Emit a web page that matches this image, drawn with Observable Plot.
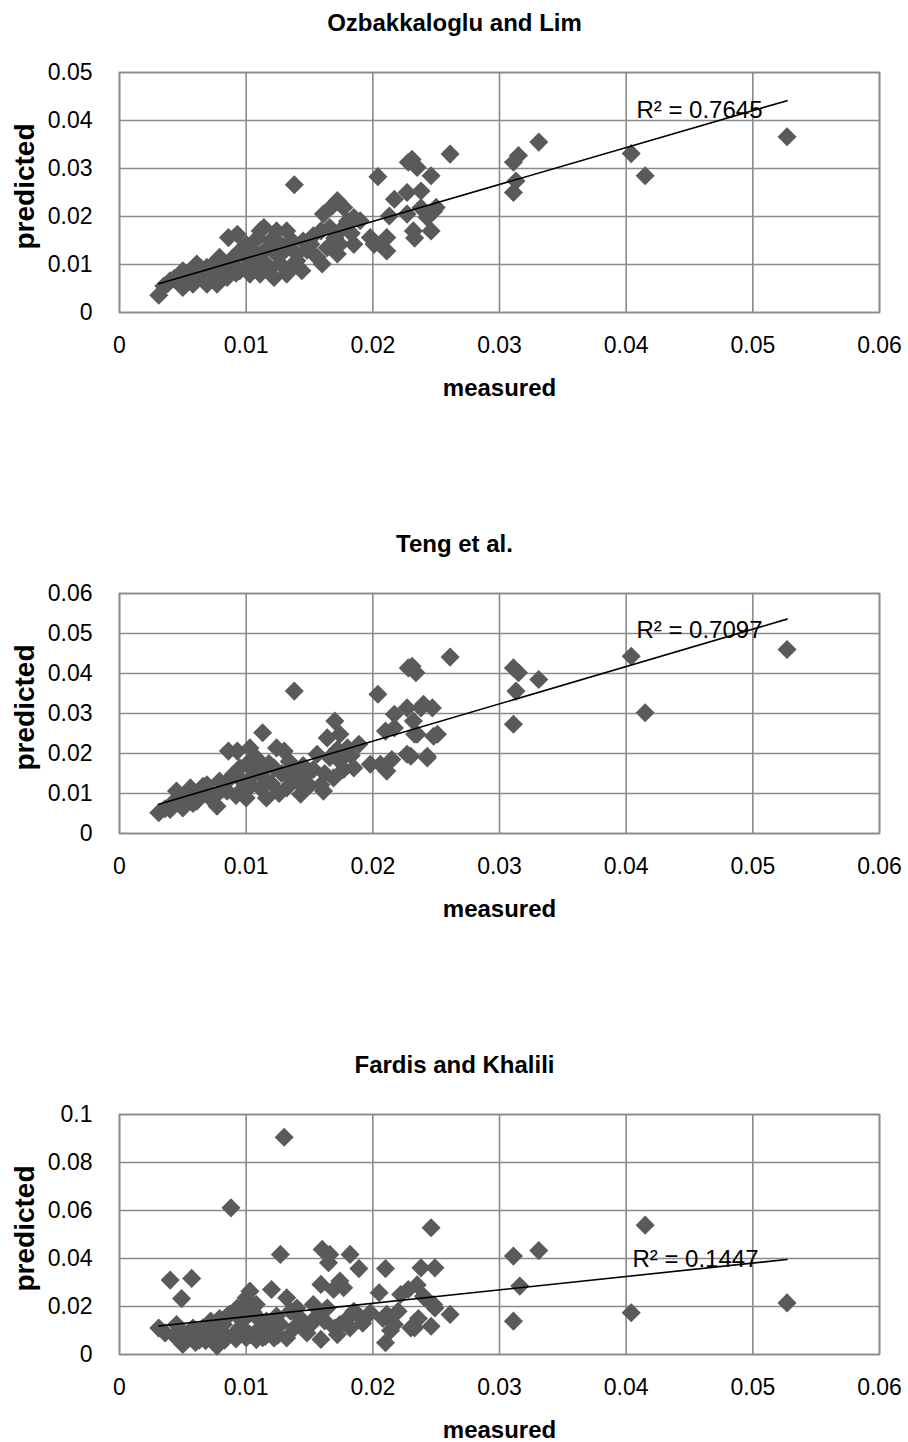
<!DOCTYPE html>
<html><head><meta charset="utf-8">
<script src="https://cdn.jsdelivr.net/npm/d3@7"></script>
<script src="https://cdn.jsdelivr.net/npm/@observablehq/plot@0.6"></script>
<style>body{margin:0;background:#fff;} svg{display:block;}</style>
</head><body><div id="c"></div>
<script>
const titles = ["Ozbakkaloglu and Lim", "Teng et al.", "Fardis and Khalili"];
const r2Labels = ["R² = 0.7645", "R² = 0.7097", "R² = 0.1447"];
const xLabel = "measured";
const yLabel = "predicted";
const xTicks = [0, 0.01, 0.02, 0.03, 0.04, 0.05, 0.06];
const yTicks1 = [0, 0.01, 0.02, 0.03, 0.04, 0.05];
const yTicks2 = [0, 0.01, 0.02, 0.03, 0.04, 0.05, 0.06];
const yTicks3 = [0, 0.02, 0.04, 0.06, 0.08, 0.1];

// Ozbakkaloglu and Lim
const measured1 = [0.0031,0.0035,0.0038,0.0040,0.0043,0.0045,0.0048,0.0050,0.0050,0.0053,0.0056,0.0058,0.0060,0.0061,0.0064,0.0066,0.0069,0.0069,0.0072,0.0074,0.0077,0.0079,0.0080,0.0083,0.0085,0.0086,0.0087,0.0089,0.0090,0.0092,0.0093,0.0095,0.0095,0.0098,0.0100,0.0101,0.0103,0.0104,0.0106,0.0108,0.0109,0.0111,0.0111,0.0113,0.0114,0.0116,0.0118,0.0119,0.0120,0.0122,0.0124,0.0125,0.0127,0.0127,0.0130,0.0132,0.0132,0.0135,0.0136,0.0138,0.0140,0.0140,0.0144,0.0145,0.0148,0.0151,0.0153,0.0156,0.0159,0.0160,0.0161,0.0164,0.0166,0.0168,0.0170,0.0172,0.0172,0.0174,0.0174,0.0177,0.0180,0.0183,0.0185,0.0185,0.0190,0.0198,0.0201,0.0204,0.0206,0.0211,0.0211,0.0213,0.0217,0.0227,0.0227,0.0228,0.0231,0.0232,0.0233,0.0235,0.0238,0.0238,0.0243,0.0246,0.0246,0.0248,0.0250,0.0261,0.0311,0.0313,0.0311,0.0315,0.0331,0.0404,0.0415,0.0527];
const predicted1 = [0.0036,0.0055,0.0060,0.0066,0.0070,0.0073,0.0062,0.0087,0.0052,0.0078,0.0087,0.0059,0.0070,0.0101,0.0092,0.0080,0.0094,0.0059,0.0072,0.0101,0.0059,0.0115,0.0088,0.0095,0.0073,0.0156,0.0101,0.0108,0.0115,0.0082,0.0163,0.0128,0.0087,0.0120,0.0142,0.0095,0.0080,0.0132,0.0101,0.0115,0.0155,0.0170,0.0080,0.0125,0.0177,0.0101,0.0090,0.0149,0.0135,0.0073,0.0170,0.0118,0.0142,0.0101,0.0128,0.0170,0.0080,0.0094,0.0150,0.0266,0.0122,0.0108,0.0087,0.0149,0.0130,0.0142,0.0160,0.0115,0.0170,0.0101,0.0205,0.0135,0.0177,0.0222,0.0155,0.0233,0.0122,0.0170,0.0142,0.0219,0.0190,0.0165,0.0198,0.0142,0.0191,0.0156,0.0142,0.0283,0.0142,0.0156,0.0128,0.0201,0.0236,0.0250,0.0205,0.0313,0.0319,0.0170,0.0155,0.0302,0.0253,0.0218,0.0198,0.0170,0.0285,0.0211,0.0219,0.0330,0.0250,0.0274,0.0313,0.0327,0.0355,0.0331,0.0285,0.0366];

// Teng et al.
const measured2 = [0.0031,0.0036,0.0040,0.0043,0.0045,0.0048,0.0050,0.0053,0.0056,0.0058,0.0061,0.0064,0.0066,0.0069,0.0071,0.0074,0.0077,0.0079,0.0081,0.0085,0.0086,0.0088,0.0090,0.0092,0.0093,0.0095,0.0097,0.0098,0.0100,0.0101,0.0103,0.0104,0.0106,0.0108,0.0110,0.0111,0.0113,0.0114,0.0116,0.0118,0.0120,0.0122,0.0124,0.0126,0.0128,0.0130,0.0132,0.0134,0.0136,0.0138,0.0138,0.0140,0.0143,0.0145,0.0148,0.0150,0.0153,0.0156,0.0159,0.0161,0.0162,0.0164,0.0166,0.0169,0.0170,0.0172,0.0174,0.0174,0.0177,0.0180,0.0183,0.0185,0.0189,0.0198,0.0204,0.0206,0.0210,0.0211,0.0215,0.0217,0.0217,0.0227,0.0227,0.0228,0.0230,0.0231,0.0232,0.0233,0.0234,0.0235,0.0238,0.0240,0.0243,0.0243,0.0247,0.0248,0.0251,0.0261,0.0311,0.0315,0.0313,0.0311,0.0331,0.0404,0.0415,0.0527];
const predicted2 = [0.0052,0.0062,0.0060,0.0080,0.0106,0.0072,0.0064,0.0095,0.0114,0.0075,0.0081,0.0100,0.0118,0.0122,0.0090,0.0089,0.0068,0.0131,0.0110,0.0106,0.0206,0.0140,0.0148,0.0095,0.0206,0.0164,0.0130,0.0114,0.0089,0.0175,0.0214,0.0120,0.0148,0.0189,0.0160,0.0114,0.0252,0.0140,0.0089,0.0175,0.0125,0.0164,0.0214,0.0100,0.0150,0.0206,0.0114,0.0180,0.0135,0.0356,0.0164,0.0131,0.0098,0.0170,0.0148,0.0120,0.0160,0.0198,0.0122,0.0106,0.0150,0.0239,0.0190,0.0139,0.0281,0.0210,0.0248,0.0181,0.0160,0.0214,0.0195,0.0164,0.0223,0.0173,0.0348,0.0173,0.0256,0.0156,0.0185,0.0298,0.0264,0.0314,0.0198,0.0414,0.0193,0.0418,0.0281,0.0248,0.0402,0.0248,0.0314,0.0323,0.0189,0.0193,0.0314,0.0243,0.0248,0.0441,0.0414,0.0402,0.0356,0.0273,0.0385,0.0443,0.0302,0.0460];

// Fardis and Khalili
const measured3 = [0.0031,0.0036,0.0040,0.0043,0.0045,0.0048,0.0049,0.0050,0.0052,0.0053,0.0056,0.0057,0.0058,0.0060,0.0061,0.0063,0.0066,0.0068,0.0069,0.0070,0.0072,0.0074,0.0075,0.0077,0.0079,0.0080,0.0082,0.0083,0.0085,0.0087,0.0088,0.0090,0.0091,0.0092,0.0093,0.0095,0.0097,0.0098,0.0100,0.0100,0.0101,0.0103,0.0103,0.0105,0.0106,0.0108,0.0108,0.0110,0.0111,0.0113,0.0115,0.0116,0.0118,0.0120,0.0122,0.0124,0.0125,0.0127,0.0127,0.0130,0.0132,0.0132,0.0135,0.0138,0.0140,0.0143,0.0145,0.0148,0.0151,0.0153,0.0156,0.0159,0.0159,0.0160,0.0162,0.0164,0.0165,0.0166,0.0169,0.0170,0.0172,0.0174,0.0174,0.0177,0.0180,0.0182,0.0182,0.0185,0.0188,0.0189,0.0192,0.0198,0.0205,0.0208,0.0210,0.0210,0.0211,0.0214,0.0217,0.0220,0.0222,0.0228,0.0230,0.0233,0.0235,0.0236,0.0238,0.0240,0.0241,0.0246,0.0246,0.0248,0.0249,0.0249,0.0261,0.0311,0.0316,0.0311,0.0331,0.0404,0.0415,0.0527];
const predicted3 = [0.0110,0.0090,0.0310,0.0080,0.0125,0.0100,0.0233,0.0042,0.0055,0.0085,0.0069,0.0317,0.0110,0.0050,0.0097,0.0060,0.0111,0.0058,0.0069,0.0120,0.0139,0.0090,0.0052,0.0035,0.0150,0.0100,0.0125,0.0060,0.0160,0.0167,0.0611,0.0083,0.0180,0.0065,0.0194,0.0111,0.0140,0.0200,0.0236,0.0070,0.0090,0.0264,0.0083,0.0180,0.0167,0.0208,0.0062,0.0150,0.0111,0.0070,0.0075,0.0139,0.0100,0.0271,0.0069,0.0160,0.0080,0.0417,0.0125,0.0905,0.0236,0.0069,0.0180,0.0111,0.0194,0.0150,0.0125,0.0090,0.0125,0.0208,0.0160,0.0292,0.0063,0.0438,0.0140,0.0194,0.0382,0.0417,0.0271,0.0110,0.0083,0.0306,0.0125,0.0278,0.0150,0.0417,0.0111,0.0180,0.0167,0.0358,0.0130,0.0174,0.0257,0.0150,0.0358,0.0049,0.0167,0.0100,0.0125,0.0180,0.0250,0.0271,0.0111,0.0111,0.0290,0.0150,0.0361,0.0243,0.0236,0.0528,0.0118,0.0208,0.0361,0.0194,0.0167,0.0410,0.0285,0.0139,0.0433,0.0174,0.0539,0.0215];

const fmt = d => String(d);
const gridColor = "#8a8a8a";

function panel(cfg) {
  const data = cfg.xs.map((x, i) => ({x, y: cfg.ys[i]}));
  return Plot.plot({
    width: 908,
    height: cfg.height,
    marginLeft: 119,
    marginRight: 29,
    marginTop: 72,
    marginBottom: cfg.height - 72 - 240,
    style: {fontFamily: "'Liberation Sans', Arial, sans-serif", fontSize: "23px", color: "#000", background: "#fff"},
    x: {domain: [0, 0.06]},
    y: {domain: [0, cfg.yMax]},
    marks: [
      Plot.gridX(xTicks, {stroke: gridColor, strokeOpacity: 1, strokeWidth: 1.6}),
      Plot.gridY(cfg.yTicks, {stroke: gridColor, strokeOpacity: 1, strokeWidth: 1.6}),
      Plot.frame({stroke: gridColor, strokeWidth: 1.6}),
      Plot.axisX(xTicks, {tickSize: 0, tickPadding: 24, label: null, tickFormat: fmt}),
      Plot.axisY(cfg.yTicks, {tickSize: 0, tickPadding: 27, label: null, tickFormat: fmt}),
      Plot.dot(data, {x: "x", y: "y", symbol: "diamond2", r: 8.6, fill: "#5a5a5a", stroke: null}),
      Plot.linearRegressionY(data, {x: "x", y: "y", stroke: "#000", strokeWidth: 1.6, ci: 0}),
      Plot.text([cfg.r2], {text: d => d, frameAnchor: "top-right", textAnchor: "end", lineAnchor: "middle", dx: cfg.r2dx, dy: cfg.r2dy, fontSize: 24, fill: "#000"}),
      Plot.text([cfg.title], {text: d => d, frameAnchor: "top", lineAnchor: "middle", dx: -45, dy: -49, fontWeight: "bold", fontSize: 24, fill: "#000"}),
      Plot.text([xLabel], {text: d => d, frameAnchor: "bottom", lineAnchor: "middle", dy: 76, fontWeight: "bold", fontSize: 24, fill: "#000"}),
      Plot.text([yLabel], {text: d => d, frameAnchor: "left", textAnchor: "middle", lineAnchor: "middle", dx: -94, dy: -6, rotate: -90, fontWeight: "bold", fontSize: 28, fill: "#000"})
    ]
  });
}

const c = document.getElementById("c");
c.append(panel({title: titles[0], r2: r2Labels[0], xs: measured1, ys: predicted1, yTicks: yTicks1, yMax: 0.05, height: 521, r2dx: -117, r2dy: 38}));
c.append(panel({title: titles[1], r2: r2Labels[1], xs: measured2, ys: predicted2, yTicks: yTicks2, yMax: 0.06, height: 521, r2dx: -117, r2dy: 37}));
c.append(panel({title: titles[2], r2: r2Labels[2], xs: measured3, ys: predicted3, yTicks: yTicks3, yMax: 0.1, height: 400, r2dx: -121, r2dy: 145}));
</script>
</body></html>
